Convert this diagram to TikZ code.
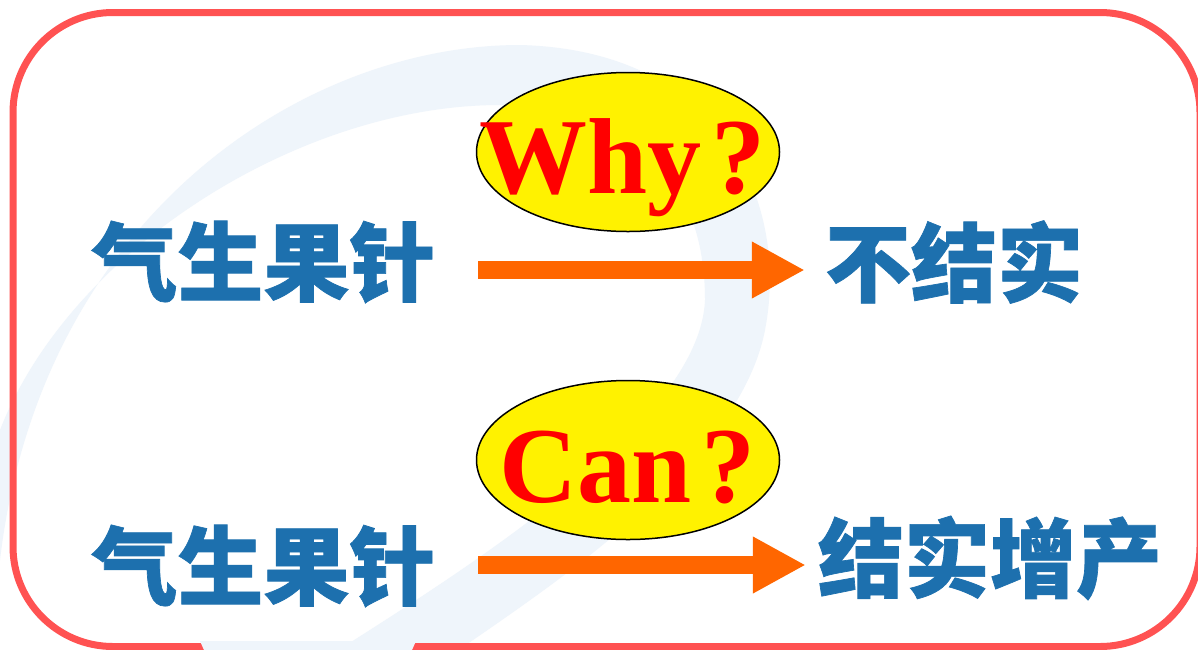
\documentclass[tikz,border=0pt]{standalone}
\usepackage{fontspec}
\setmainfont{Liberation Serif}
\newfontfamily\cjk[BoldFeatures={FakeBold=0.8}]{Noto Sans CJK SC}
\usetikzlibrary{arrows.meta,shapes.geometric}
\definecolor{bord}{HTML}{FF5252}
\definecolor{txtblue}{HTML}{1D70AE}
\definecolor{arr}{HTML}{FF6600}
\definecolor{swoosh}{HTML}{EFF5FB}
\begin{document}
\begin{tikzpicture}[x=1pt,y=-1pt,
  cjktext/.style={text=txtblue,font=\cjk\bfseries\fontsize{86}{86}\selectfont,inner sep=0pt},
  qbubble/.style={ellipse,draw=black,line width=1.5pt,fill=yellow,minimum width=303pt,minimum height=159pt,inner sep=0pt},
  qtext/.style={text=red,font=\bfseries\fontsize{108}{108}\selectfont,inner sep=0pt},
  flow/.style={arr,line width=18pt,-{Triangle[length=53pt,width=53pt]}}]
\useasboundingbox (0,0) rectangle (1198,649);
\fill[white] (0,0) rectangle (1198,649);
\begin{scope}
\clip (0,0) rectangle (1198,649);
\fill[swoosh] (0,560) .. controls (40,220) and (300,45) .. (520,45)
  .. controls (720,50) and (790,200) .. (765,330)
  .. controls (740,460) and (560,580) .. (460,649) -- (340,649)
  .. controls (480,560) and (700,420) .. (705,300)
  .. controls (705,160) and (610,105) .. (500,105)
  .. controls (300,105) and (70,250) .. (0,430) -- cycle;
\end{scope}
\draw[bord,line width=7pt,rounded corners=100pt] (13,12.5) rectangle (1200,646.5);
\fill[swoosh] (200,641) -- (416,641) -- (412,650) -- (204,650) -- cycle;
\node[cjktext] (l1) at (263.5,262) {气生果针};
\node[cjktext] (r1) at (954,262) {不结实};
\node[cjktext] (l2) at (263.5,566) {气生果针};
\node[cjktext] (r2) at (990,558) {结实增产};
\node[qbubble] (wb) at (628,152) {};
\node[qbubble] (cb) at (628,460) {};
\node[qtext,anchor=base west] (wt) at (479,193) {Why\hspace{10pt}?};
\node[qtext,anchor=base west] (ct) at (499,502) {Can\hspace{10pt}?};
\draw[flow] ([xshift=42.5pt,yshift=-8pt]l1.east) -- ([xshift=-20pt,yshift=-8pt]r1.west);
\draw[flow] ([xshift=42.5pt,yshift=1pt]l2.east) -- ([xshift=-12pt,yshift=-7pt]r2.west);
\end{tikzpicture}
\end{document}
